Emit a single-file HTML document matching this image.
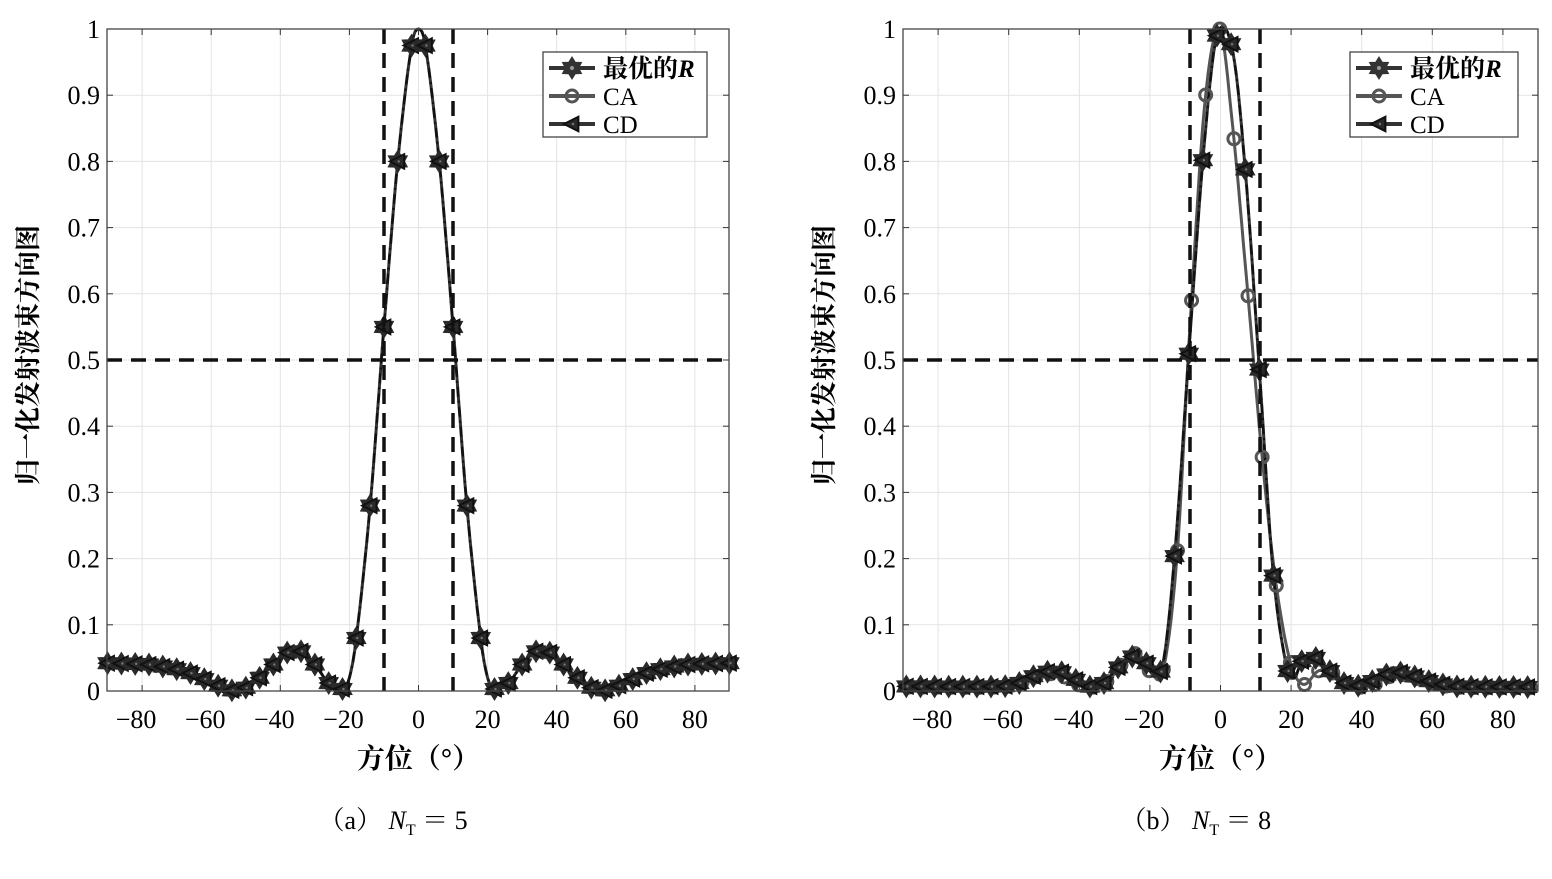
<!DOCTYPE html>
<html><head><meta charset="utf-8"><style>
body{margin:0;background:#fff;width:1552px;height:874px;overflow:hidden}
svg text{font-family:"Liberation Serif","Noto Serif CJK SC",serif}
</style></head><body>
<svg id="s" width="1552" height="874" xmlns="http://www.w3.org/2000/svg"></svg>
<script>
const S=document.getElementById('s');let H='';
function add(s){H+=s;}
function interp(k,x){
  if(x<=k[0][0])return k[0][1]; if(x>=k[k.length-1][0])return k[k.length-1][1];
  let i=0;while(k[i+1][0]<x)i++;
  const p0=k[Math.max(i-1,0)],p1=k[i],p2=k[i+1],p3=k[Math.min(i+2,k.length-1)];
  const t=(x-p1[0])/(p2[0]-p1[0]);
  const m1=(p2[1]-p0[1])/(p2[0]-p0[0])*(p2[0]-p1[0]);
  const m2=(p3[1]-p1[1])/(p3[0]-p1[0])*(p2[0]-p1[0]);
  const t2=t*t,t3=t2*t;
  return (2*t3-3*t2+1)*p1[1]+(t3-2*t2+t)*m1+(-2*t3+3*t2)*p2[1]+(t3-t2)*m2;
}
function hex(cx,cy,r,c){let p='';for(let i=0;i<12;i++){const a=Math.PI/6*i-Math.PI/2;const rr=i%2?r*0.6:r;p+=(cx+rr*Math.cos(a)).toFixed(1)+','+(cy+rr*Math.sin(a)).toFixed(1)+' ';}return `<polygon points="${p}" fill="${c}" stroke="${c}" stroke-width="1"/>`;}
function tri(cx,cy,r){return `<polygon points="${cx-r},${cy} ${cx+r*0.8},${cy-r*0.9} ${cx+r*0.8},${cy+r*0.9}" fill="#2a2a2a" stroke="#111" stroke-width="2"/><circle cx="${cx+1}" cy="${cy}" r="1.2" fill="#777"/>`;}
function circ(cx,cy,r){return `<circle cx="${cx}" cy="${cy}" r="${r}" fill="none" stroke="#555" stroke-width="3"/>`;}
function plot(o){
  const L=o.L,R=o.R,T=29,B=691,X=v=>o.z+v*o.s,Y=v=>B-v*(B-T);
  add(`<rect x="${L}" y="${T}" width="${R-L}" height="${B-T}" fill="#fff"/>`);
  for(let v=-80;v<=80;v+=20){add(`<line x1="${X(v)}" y1="${T}" x2="${X(v)}" y2="${B}" stroke="#e3e3e3" stroke-width="1"/><line x1="${X(v)}" y1="${B}" x2="${X(v)}" y2="${B-6}" stroke="#333"/><line x1="${X(v)}" y1="${T}" x2="${X(v)}" y2="${T+6}" stroke="#333"/>`);
    add(`<text x="${X(v)-(v<0?6:0)}" y="728" font-size="26" text-anchor="middle">${v<0?'−'+(-v):v}</text>`);}
  for(let i=0;i<=10;i++){const v=i/10,y=Y(v);add(`<line x1="${L}" y1="${y}" x2="${R}" y2="${y}" stroke="#e3e3e3"/><line x1="${L}" y1="${y}" x2="${L+6}" y2="${y}" stroke="#333"/><line x1="${R}" y1="${y}" x2="${R-6}" y2="${y}" stroke="#333"/>`);
    add(`<text x="${L-7}" y="${y+9}" font-size="26" text-anchor="end">${i==0?'0':i==10?'1':'0.'+i}</text>`);}
  function path(k){let d='';for(let x=-90;x<=90;x+=0.5){d+=(d?'L':'M')+X(x).toFixed(1)+','+Y(Math.max(0,interp(k,x))).toFixed(1);}return d;}
  if(o.ca){add(`<path d="${path(o.ca)}" fill="none" stroke="#555" stroke-width="3"/>`);}
  add(`<path d="${path(o.r)}" fill="none" stroke="#333" stroke-width="3"/>`);
  add(`<path d="${path(o.r)}" fill="none" stroke="#111" stroke-width="2.5" stroke-dasharray="10,4,2,4"/>`);
  if(o.ca){for(let x=o.cao;x<=90;x+=4)add(circ(X(x),Y(Math.max(0,interp(o.ca,x))),6));}
  for(let x=o.ro;x<=90;x+=4){const cx=X(x),cy=Y(Math.max(0,interp(o.r,x)));add(hex(cx,cy,11,'#2a2a2a'));add(tri(cx,cy,8));}
  const dl=`stroke="#111" stroke-width="3.5" stroke-dasharray="15,9"`;
  add(`<line x1="${L}" y1="${Y(0.5)}" x2="${R}" y2="${Y(0.5)}" ${dl}/>`);
  for(const px of o.v)add(`<line x1="${px}" y1="${T}" x2="${px}" y2="${B}" ${dl}/>`);
  add(`<rect x="${L}" y="${T}" width="${R-L}" height="${B-T}" fill="none" stroke="#444" stroke-width="1.3"/>`);
  const lx=o.lg;add(`<rect x="${lx}" y="52" width="${o.lw}" height="85" fill="#fff" stroke="#444" stroke-width="1.3"/>`);
  const rows=[['最优的','R'],['CA',''],['CD','']];
  rows.forEach((r,i)=>{const y=68+i*28;add(`<line x1="${lx+6}" y1="${y}" x2="${lx+52}" y2="${y}" stroke="${i==1?'#555':'#333'}" stroke-width="4"/>`);
    add(i==0?hex(lx+29,y,11,'#333')+'<circle cx="'+(lx+29)+'" cy="'+y+'" r="2" fill="#999"/>':i==1?circ(lx+29,y,6):tri(lx+29,y,8));
    add(`<text x="${lx+60}" y="${y+9}" font-size="25" ${i==0?'font-weight="bold"':''}>${r[0]}${r[1]?'<tspan font-style="italic">'+r[1]+'</tspan>':''}</text>`);});
  add(`<text x="${o.z}" y="768" font-size="28" text-anchor="middle" font-weight="bold">方位（°）</text>`);
  add(`<text transform="translate(${L-70},355) rotate(-90)" font-size="26" text-anchor="middle" font-weight="bold">归一化发射波束方向图</text>`);
  add(`<text x="${o.z-100}" y="829" font-size="26">（${o.lab}） <tspan font-style="italic">N</tspan><tspan font-size="16" dy="6">T</tspan><tspan dy="-6"> ＝ ${o.n}</tspan></text>`);
}
const rl=[[0,1],[2,0.975],[6,0.8],[10,0.55],[14,0.28],[18,0.08],[20,0.02],[22,0.003],[26,0.012],[30,0.04],[34,0.06],[38,0.058],[42,0.04],[46,0.02],[50,0.005],[54,0.001],[58,0.008],[62,0.018],[66,0.027],[70,0.033],[74,0.037],[78,0.04],[82,0.041],[90,0.042]];
const lk=[];for(let i=rl.length-1;i>0;i--)lk.push([-rl[i][0],rl[i][1]]);lk.push(...rl);
plot({L:107,R:729,z:418.5,s:3.455,r:lk,ro:-90,v:[384,453],lg:543,lw:164,lab:'a',n:5});
const r2=[[-90,0.007],[-62,0.007],[-58,0.01],[-54,0.02],[-50,0.028],[-46,0.03],[-42,0.02],[-38,0.008],[-34,0.008],[-30,0.03],[-26,0.05],[-22,0.05],[-19,0.025],[-16,0.05],[-12.6,0.23],[-8.6,0.54],[-4.7,0.82],[-1,0.99],[3.5,0.965],[7.2,0.775],[11.2,0.47],[14.9,0.18],[18.8,0.035],[21,0.02],[23,0.045],[27,0.05],[31,0.03],[35,0.012],[39,0.008],[43,0.015],[47,0.025],[51,0.028],[55,0.022],[59,0.015],[63,0.01],[67,0.007],[90,0.006]];
const c2=[[-90,0.006],[-62,0.006],[-58,0.01],[-54,0.018],[-50,0.025],[-46,0.025],[-42,0.015],[-38,0.005],[-32,0.015],[-28,0.04],[-24.5,0.057],[-20,0.03],[-16.3,0.03],[-12.3,0.205],[-8.6,0.555],[-4.4,0.89],[-0.2,1.0],[3.3,0.86],[7.5,0.615],[11.5,0.37],[15.4,0.175],[19.7,0.045],[23.4,0.01],[27.6,0.03],[31,0.03],[35,0.012],[39,0.006],[43,0.008],[47,0.02],[51,0.025],[55,0.02],[60,0.012],[66,0.006],[90,0.005]];
plot({L:903,R:1538,z:1220.5,s:3.53,r:r2,ro:-89,ca:c2,cao:-88.2,v:[1190,1260],lg:1350,lw:168,lab:'b',n:8});
S.innerHTML=H;
</script>
</body></html>
